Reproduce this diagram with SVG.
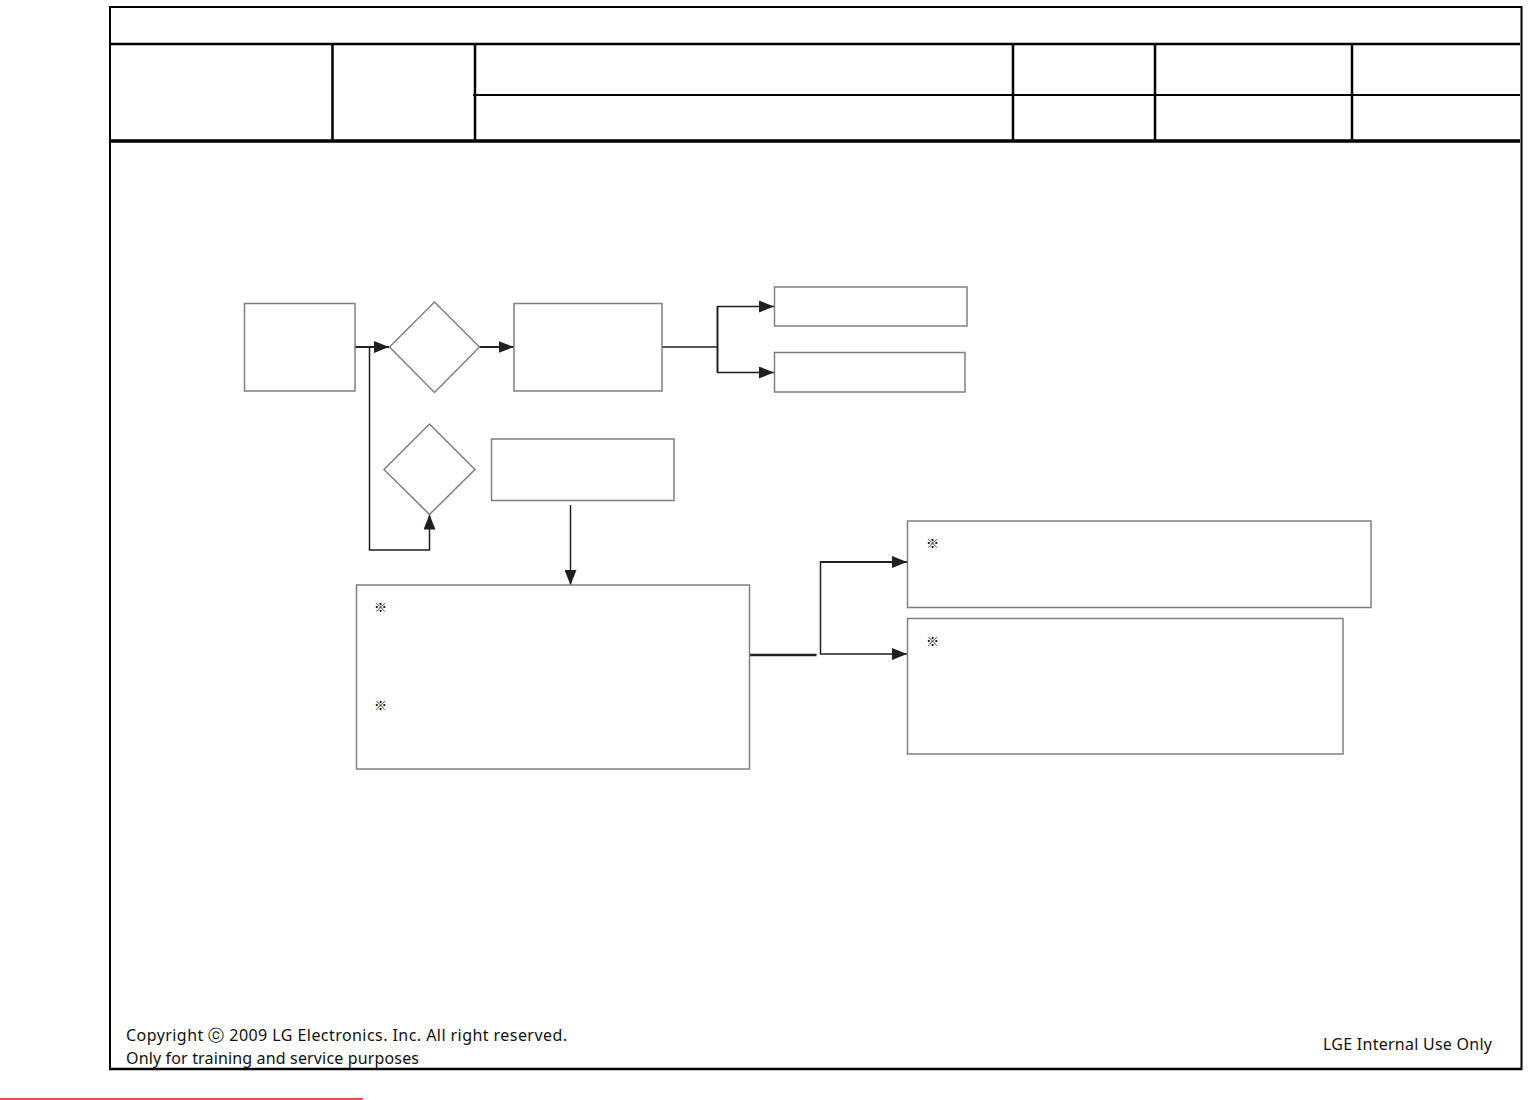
<svg xmlns="http://www.w3.org/2000/svg" width="1540" height="1100" viewBox="0 0 1540 1100">
<style>
.frame{stroke:#000;fill:none}
.node{fill:#fff;stroke:#808080;stroke-width:1.5}
.conn{stroke:#231f20;fill:none;stroke-width:1.5}
.mark{font-family:"Noto Sans CJK KR","Noto Sans CJK SC",sans-serif;font-size:13px;font-weight:bold;fill:#000}
.foot{font-family:"Noto Sans","Liberation Sans",sans-serif;font-size:16px;fill:#111}
</style>
<defs>
<marker id="ah" markerWidth="15" markerHeight="12" refX="15" refY="6" orient="auto" markerUnits="userSpaceOnUse">
<path d="M0,0 L15,6 L0,12 Z" fill="#231f20"/>
</marker>
</defs>
<rect width="1540" height="1100" fill="#fff"/>
<g id="frame" class="frame">
<line x1="110" y1="7" x2="1522" y2="7" stroke-width="2"/>
<line x1="110" y1="6" x2="110" y2="1070" stroke-width="2"/>
<line x1="1521.5" y1="6" x2="1521.5" y2="1070" stroke-width="2"/>
<line x1="109" y1="1069" x2="1522" y2="1069" stroke-width="2.5"/>
<line x1="110" y1="44" x2="1520" y2="44" stroke-width="2.5"/>
<line x1="473" y1="95" x2="1520" y2="95" stroke-width="2"/>
<line x1="110" y1="141" x2="1520" y2="141" stroke-width="3.5"/>
<line x1="332.5" y1="44" x2="332.5" y2="141" stroke-width="2.5"/>
<line x1="475" y1="44" x2="475" y2="141" stroke-width="2.5"/>
<line x1="1013" y1="44" x2="1013" y2="141" stroke-width="2.5"/>
<line x1="1155" y1="44" x2="1155" y2="141" stroke-width="2.5"/>
<line x1="1352" y1="44" x2="1352" y2="141" stroke-width="2.5"/>
</g>
<line id="redline" x1="0" y1="1099" x2="363" y2="1099" stroke="#e05050" stroke-width="2"/>
<g id="connectors" class="conn">
<line x1="355" y1="347" x2="389" y2="347" stroke-width="2" marker-end="url(#ah)"/>
<polyline points="369.5,347 369.5,550 429.5,550 429.5,514.5" marker-end="url(#ah)"/>
<line x1="479" y1="347" x2="513.5" y2="347" stroke-width="2" marker-end="url(#ah)"/>
<line x1="662" y1="347" x2="717.5" y2="347"/>
<line x1="717.5" y1="306.5" x2="717.5" y2="372.5" stroke-width="2"/>
<line x1="717" y1="306.5" x2="774" y2="306.5" marker-end="url(#ah)"/>
<line x1="717" y1="372.5" x2="774" y2="372.5" marker-end="url(#ah)"/>
<line x1="570.5" y1="505" x2="570.5" y2="585" marker-end="url(#ah)"/>
<line x1="749" y1="655" x2="816.5" y2="655" stroke-width="2.5"/>
<polyline points="907,562 820.5,562 820.5,654 907,654" marker-end="url(#ah)"/>
<line x1="820" y1="562" x2="907" y2="562" stroke-width="2" marker-end="url(#ah)"/>
</g>
<g id="nodeA"><rect class="node" x="244.5" y="303.5" width="110.5" height="87.5"/></g>
<g id="decision1"><polygon class="node" points="434.5,302 479.5,347 434.5,392.5 389.5,347"/></g>
<g id="nodeB"><rect class="node" x="514" y="303.5" width="148" height="87.5"/></g>
<g id="nodeD"><rect class="node" x="774.5" y="287" width="192.5" height="39"/></g>
<g id="nodeE"><rect class="node" x="774.5" y="352.5" width="190.5" height="39.5"/></g>
<g id="decision2"><polygon class="node" points="429.5,424 475,469.5 429.5,514.5 384,469.5"/></g>
<g id="nodeC"><rect class="node" x="491.5" y="439" width="182.5" height="61.5" stroke-width="2"/></g>
<g id="nodeF"><rect class="node" x="356.5" y="585" width="393" height="184"/>
<text class="mark" x="374" y="612">※</text>
<text class="mark" x="374" y="710">※</text></g>
<g id="nodeG"><rect class="node" x="907.5" y="521" width="463.5" height="86.5" stroke-width="2"/>
<text class="mark" x="926" y="548">※</text></g>
<g id="nodeH"><rect class="node" x="907.5" y="618.5" width="435.5" height="135.5"/>
<text class="mark" x="926" y="646">※</text></g>
<g id="footer">
<text class="foot" x="126" y="1041" textLength="441" lengthAdjust="spacing">Copyright ⓒ 2009 LG Electronics. Inc. All right reserved.</text>
<text class="foot" x="126" y="1064" textLength="293" lengthAdjust="spacing">Only for training and service purposes</text>
<text class="foot" x="1323" y="1050" textLength="169" lengthAdjust="spacing">LGE Internal Use Only</text>
</g>
</svg>
